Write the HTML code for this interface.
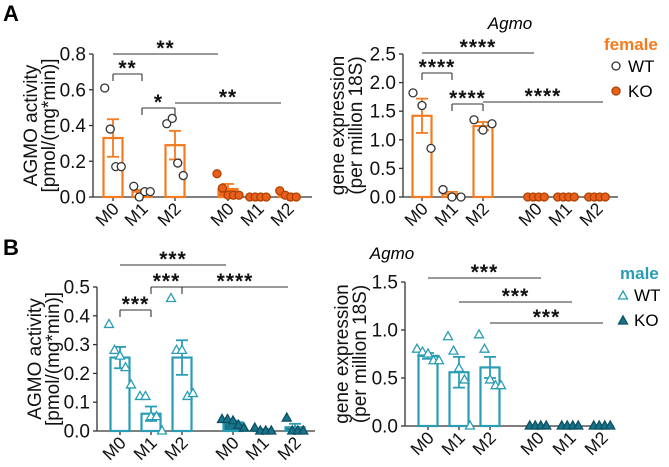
<!DOCTYPE html>
<html><head><meta charset="utf-8"><style>
html,body{margin:0;padding:0;background:#fff;width:669px;height:467px;overflow:hidden}
svg{font-family:"Liberation Sans",Arial,sans-serif}
</style></head><body>
<svg id="fig" width="669" height="467" viewBox="0 0 669 467"></svg>
<script>
// ---------- data ----------
const categories = ["M0","M1","M2","M0","M1","M2"];
// Panel A left (female AGMO activity)
const aActMeans = [0.33,0.03,0.29,0.045,0.003,0.01];
const aActSem   = [0.105,0.01,0.08,0.028,0.002,0.008];
const aActPts   = [[0.61,0.38,0.17,0.17],[0.06,0.0,0.03,0.03],[0.41,0.44,0.19,0.12],[0.13,0.05,0.01,0.01,0.01],[0,0,0,0],[0.035,0.01,0,0]];
const aActTicks = ["0.0","0.2","0.4","0.6","0.8"];
// Panel A right (female gene expression)
const aExpMeans = [1.42,0.05,1.24,0,0,0];
const aExpSem   = [0.3,0.04,0.07,0,0,0];
const aExpPts   = [[1.82,1.6,0.85],[0.13,0,0],[1.35,1.17,1.28],[0,0,0,0],[0,0,0,0],[0,0,0,0]];
const aExpTicks = ["0.0","0.5","1.0","1.5","2.0","2.5"];
// Panel B left (male AGMO activity)
const bActMeans = [0.255,0.06,0.255,0.03,0.004,0.013];
const bActSem   = [0.037,0.025,0.06,0.006,0.003,0.012];
const bActPts   = [[0.37,0.28,0.26,0.22,0.16],[0.12,0.12,0.05,0.05,0.0],[0.46,0.28,0.28,0.12,0.13],[0.04,0.04,0.035,0.02,0.01],[0.01,0,0,0],[0.045,0,0,0]];
const bActTicks = ["0.0","0.1","0.2","0.3","0.4","0.5"];
// Panel B right (male gene expression)
const bExpMeans = [0.73,0.56,0.61,0,0,0];
const bExpSem   = [0.03,0.16,0.11,0,0,0];
const bExpPts   = [[0.8,0.77,0.75,0.68,0.68],[0.93,0.78,0.6,0.48,0.0],[0.95,0.8,0.48,0.42,0.42],[0,0,0,0],[0,0,0,0],[0,0,0,0]];
const bExpTicks = ["0.0","0.5","1.0","1.5"];

// ---------- render ----------
const NS="http://www.w3.org/2000/svg";
const svg=document.getElementById('fig');
function mk(tag,attrs,parent,text){const e=document.createElementNS(NS,tag);for(const k in attrs)e.setAttribute(k,attrs[k]);if(text!==undefined)e.textContent=text;(parent||svg).appendChild(e);return e;}

const ORANGE="#f47b20", ORANGE_KO="#e8601c", TEAL="#2a9db5", TEAL_KO="#17748c";

function panel(o){
  const g=mk('g',{});
  
  
  const ymax=parseFloat(o.ticks[o.ticks.length-1]);
  const y=v=>o.y0-(v/ymax)*(o.y0-o.yTop);
  const ax=mk('line',{x1:o.axX,y1:o.yTop,x2:o.axX,y2:o.y0,stroke:"#333","stroke-width":1.3},g);
  
  o.ticks.forEach(t=>{const v=parseFloat(t);mk('line',{x1:o.axX-4,y1:y(v),x2:o.axX,y2:y(v),stroke:"#333","stroke-width":1.3},g);
    const tl=mk('text',{x:o.axX-7,y:y(v)+6.5,"text-anchor":"end","font-size":19,fill:"#111"},g,t);
    });
  const xa=mk('line',{x1:o.axX,y1:o.y0,x2:o.axEnd,y2:o.y0,stroke:"#333","stroke-width":1.3},g);
  
  const yt=mk('text',{transform:`translate(${o.tx1},${(o.y0+o.yTop)/2}) rotate(-90)`,"text-anchor":"middle","font-size":19,fill:"#111"},g,o.title1);
  
  const yt2=mk('text',{transform:`translate(${o.tx2},${(o.y0+o.yTop)/2}) rotate(-90)`,"text-anchor":"middle","font-size":19,fill:"#111"},g,o.title2);
  
  const bw=19;
  categories.forEach((c,i)=>{
    const cx=o.xs[i], ko=i>=3;
    const col=o.color, m=o.means[i], s=o.sem[i];
    mk('line',{x1:cx,y1:o.y0,x2:cx,y2:o.y0+4,stroke:"#333","stroke-width":1.3},g);
    const lab=mk('text',{transform:`translate(${cx+7},${o.y0+13}) rotate(-45)`,"text-anchor":"end","font-size":17.5,fill:"#111"},g,c);
    
    if(m>0){const b=mk('rect',{x:cx-bw/2,y:y(m),width:bw,height:o.y0-y(m),fill:ko?o.koColor:"#fff",stroke:col,"stroke-width":2.2},g);
      }
    if(s>0){mk('line',{x1:cx,y1:y(m+s),x2:cx,y2:y(Math.max(0,m-s)),stroke:col,"stroke-width":1.8},g);
      mk('line',{x1:cx-6,y1:y(m+s),x2:cx+6,y2:y(m+s),stroke:col,"stroke-width":1.8},g);
      mk('line',{x1:cx-6,y1:y(Math.max(0,m-s)),x2:cx+6,y2:y(Math.max(0,m-s)),stroke:col,"stroke-width":1.8},g);}
    const pts=o.pts[i], n=pts.length;
    pts.forEach((v,j)=>{
      const px=cx+(j-(n-1)/2)*(n>3?5.5:9), py=y(v);
      let p;
      if(o.marker==='circle') p=mk('circle',{cx:px,cy:py,r:4,fill:ko?o.koColor:"#fff",stroke:ko?"#b04000":"#333","stroke-width":1.3},g);
      else p=mk('path',{d:`M${px},${py-5}L${px+4.5},${py+3}L${px-4.5},${py+3}Z`,fill:ko?o.koColor:"#fff",stroke:ko?"#0d4f60":col,"stroke-width":1.3},g);
      
    });
  });
  o.sig.forEach(s=>{
    const x1=o.xs[s[0]], x2=s[5]!==undefined?s[5]:o.xs[s[1]];
    mk('line',{x1:x1,y1:s[2],x2:x2,y2:s[2],stroke:"#333","stroke-width":1.1},g);
    if(s[4]){mk('line',{x1:x1,y1:s[2],x2:x1,y2:s[2]+7,stroke:"#333","stroke-width":1.1},g);mk('line',{x1:x2,y1:s[2],x2:x2,y2:s[2]+7,stroke:"#333","stroke-width":1.1},g);}
    const st=mk('text',{x:(x1+x2)/2,y:s[2]+1,"text-anchor":"middle","font-size":21,"font-weight":"bold",fill:"#111","letter-spacing":"1"},g,s[3]);
    
  });
}

panel({name:'panel-a-activity',means:aActMeans,sem:aActSem,pts:aActPts,ticks:aActTicks,y0:197,yTop:54,axX:93,axEnd:312,
  xs:[113,142,175,228,258,288],color:ORANGE,koColor:ORANGE_KO,marker:'circle',title1:'AGMO activity',title2:'[pmol/(mg*min)]',tx1:37,tx2:55,
  sig:[[0,0,54,'**',false,218],[0,1,74,'**',true],[1,2,108,'*',true],[2,2,103,'**',false,281]]});
panel({name:'panel-a-expression',means:aExpMeans,sem:aExpSem,pts:aExpPts,ticks:aExpTicks,y0:197,yTop:54,axX:403,axEnd:618,
  xs:[422,452,483,536,566,597],color:ORANGE,koColor:ORANGE_KO,marker:'circle',title1:'gene expression',title2:'(per million 18S)',tx1:344,tx2:362,
  sig:[[0,0,53,'****',false,534],[0,1,73,'****',true],[1,2,104,'****',true],[2,2,102,'****',false,603]]});
panel({name:'panel-b-activity',means:bActMeans,sem:bActSem,pts:bActPts,ticks:bActTicks,y0:431,yTop:287,axX:97,axEnd:315,
  xs:[120,151,182,233,263,295],color:TEAL,koColor:TEAL_KO,marker:'tri',title1:'AGMO activity',title2:'[pmol/(mg*min)]',tx1:41,tx2:59,
  sig:[[0,0,265,'***',false,226],[0,1,310,'***',true],[1,2,287,'***',true],[2,2,287,'****',false,288]]});
panel({name:'panel-b-expression',means:bExpMeans,sem:bExpSem,pts:bExpPts,ticks:bExpTicks,y0:426,yTop:282,axX:405,axEnd:614,
  xs:[428,459,490,538,570,602],color:TEAL,koColor:TEAL_KO,marker:'tri',title1:'gene expression',title2:'(per million 18S)',tx1:348,tx2:366,
  sig:[[0,0,278,'***',false,541],[1,1,302,'***',false,572],[2,2,323,'***',false,603]]});
</script>
<svg width="669" height="467" style="position:absolute;left:0;top:0">
  <text x="3" y="21" font-size="22" font-weight="bold" font-family="Liberation Sans,sans-serif">A</text>
  <text x="3" y="255" font-size="22" font-weight="bold" font-family="Liberation Sans,sans-serif">B</text>
  <text x="510" y="29" text-anchor="middle" font-size="17" font-style="italic" font-family="Liberation Sans,sans-serif">Agmo</text>
  <text x="392" y="259" text-anchor="middle" font-size="17" font-style="italic" font-family="Liberation Sans,sans-serif">Agmo</text>
  <g font-family="Liberation Sans,sans-serif">
    <text x="604" y="50" font-size="17" font-weight="bold" fill="#f47b20">female</text>
    <circle cx="616" cy="66" r="4" fill="#fff" stroke="#333" stroke-width="1.3"/>
    <text x="628" y="72" font-size="17">WT</text>
    <circle cx="616" cy="91" r="4" fill="#e8601c" stroke="#b04000" stroke-width="1.3"/>
    <text x="628" y="97" font-size="17">KO</text>
  </g>
  <g font-family="Liberation Sans,sans-serif">
    <text x="620" y="279" font-size="17" font-weight="bold" fill="#2a9db5">male</text>
    <path d="M623,291L627.5,299L618.5,299Z" fill="#fff" stroke="#2a9db5" stroke-width="1.3"/>
    <text x="634" y="301" font-size="17">WT</text>
    <path d="M623,316L627.5,324L618.5,324Z" fill="#17748c" stroke="#0d4f60" stroke-width="1.3"/>
    <text x="634" y="326" font-size="17">KO</text>
  </g>
</svg>
</body></html>
